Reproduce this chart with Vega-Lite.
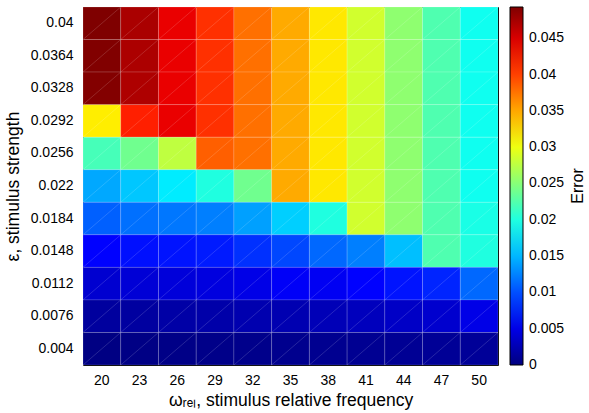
{
  "$schema": "https://vega.github.io/schema/vega-lite/v6.json",
  "width": 415,
  "height": 358,
  "autosize": {"type": "none"},
  "padding": {"left": 83, "top": 7, "right": 91, "bottom": 48},
  "config": {
    "font": "Liberation Sans",
    "view": {"stroke": "#000000", "strokeWidth": 1},
    "axis": {"labelFont": "Liberation Sans", "titleFont": "Liberation Sans", "labelColor": "#000", "titleColor": "#000", "labelFontSize": 14, "titleFontSize": 17.5, "titleFontWeight": "normal", "ticks": false, "domain": false, "grid": false},
    "legend": {"labelFont": "Liberation Sans", "titleFont": "Liberation Sans", "labelColor": "#000", "titleColor": "#000"}
  },
  "data": {"values": [
    {"x":20,"y":0.04,"e":0.0493},{"x":23,"y":0.04,"e":0.0472},{"x":26,"y":0.04,"e":0.0441},{"x":29,"y":0.04,"e":0.0408},{"x":32,"y":0.04,"e":0.0377},{"x":35,"y":0.04,"e":0.0349},{"x":38,"y":0.04,"e":0.0319},{"x":41,"y":0.04,"e":0.0286},{"x":44,"y":0.04,"e":0.0254},{"x":47,"y":0.04,"e":0.0223},{"x":50,"y":0.04,"e":0.0192},
    {"x":20,"y":0.0364,"e":0.0492},{"x":23,"y":0.0364,"e":0.0471},{"x":26,"y":0.0364,"e":0.0441},{"x":29,"y":0.0364,"e":0.0408},{"x":32,"y":0.0364,"e":0.0377},{"x":35,"y":0.0364,"e":0.0349},{"x":38,"y":0.0364,"e":0.0319},{"x":41,"y":0.0364,"e":0.0286},{"x":44,"y":0.0364,"e":0.0254},{"x":47,"y":0.0364,"e":0.0223},{"x":50,"y":0.0364,"e":0.0192},
    {"x":20,"y":0.0328,"e":0.0491},{"x":23,"y":0.0328,"e":0.0470},{"x":26,"y":0.0328,"e":0.0441},{"x":29,"y":0.0328,"e":0.0408},{"x":32,"y":0.0328,"e":0.0377},{"x":35,"y":0.0328,"e":0.0349},{"x":38,"y":0.0328,"e":0.0319},{"x":41,"y":0.0328,"e":0.0286},{"x":44,"y":0.0328,"e":0.0254},{"x":47,"y":0.0328,"e":0.0223},{"x":50,"y":0.0328,"e":0.0192},
    {"x":20,"y":0.0292,"e":0.0316},{"x":23,"y":0.0292,"e":0.0416},{"x":26,"y":0.0292,"e":0.0441},{"x":29,"y":0.0292,"e":0.0408},{"x":32,"y":0.0292,"e":0.0377},{"x":35,"y":0.0292,"e":0.0349},{"x":38,"y":0.0292,"e":0.0319},{"x":41,"y":0.0292,"e":0.0286},{"x":44,"y":0.0292,"e":0.0254},{"x":47,"y":0.0292,"e":0.0223},{"x":50,"y":0.0292,"e":0.0192},
    {"x":20,"y":0.0256,"e":0.0219},{"x":23,"y":0.0256,"e":0.0239},{"x":26,"y":0.0256,"e":0.0277},{"x":29,"y":0.0256,"e":0.0385},{"x":32,"y":0.0256,"e":0.0377},{"x":35,"y":0.0256,"e":0.0349},{"x":38,"y":0.0256,"e":0.0319},{"x":41,"y":0.0256,"e":0.0286},{"x":44,"y":0.0256,"e":0.0254},{"x":47,"y":0.0256,"e":0.0223},{"x":50,"y":0.0256,"e":0.0192},
    {"x":20,"y":0.022,"e":0.0143},{"x":23,"y":0.022,"e":0.0158},{"x":26,"y":0.022,"e":0.0176},{"x":29,"y":0.022,"e":0.0200},{"x":32,"y":0.022,"e":0.0239},{"x":35,"y":0.022,"e":0.0349},{"x":38,"y":0.022,"e":0.0319},{"x":41,"y":0.022,"e":0.0286},{"x":44,"y":0.022,"e":0.0254},{"x":47,"y":0.022,"e":0.0223},{"x":50,"y":0.022,"e":0.0192},
    {"x":20,"y":0.0184,"e":0.0108},{"x":23,"y":0.0184,"e":0.0116},{"x":26,"y":0.0184,"e":0.0119},{"x":29,"y":0.0184,"e":0.0123},{"x":32,"y":0.0184,"e":0.0139},{"x":35,"y":0.0184,"e":0.0162},{"x":38,"y":0.0184,"e":0.0200},{"x":41,"y":0.0184,"e":0.0286},{"x":44,"y":0.0184,"e":0.0254},{"x":47,"y":0.0184,"e":0.0223},{"x":50,"y":0.0184,"e":0.0197},
    {"x":20,"y":0.0148,"e":0.0062},{"x":23,"y":0.0148,"e":0.0069},{"x":26,"y":0.0148,"e":0.0071},{"x":29,"y":0.0148,"e":0.0074},{"x":32,"y":0.0148,"e":0.0085},{"x":35,"y":0.0148,"e":0.0096},{"x":38,"y":0.0148,"e":0.0112},{"x":41,"y":0.0148,"e":0.0123},{"x":44,"y":0.0148,"e":0.0154},{"x":47,"y":0.0148,"e":0.0223},{"x":50,"y":0.0148,"e":0.0200},
    {"x":20,"y":0.0112,"e":0.0039},{"x":23,"y":0.0112,"e":0.0042},{"x":26,"y":0.0112,"e":0.0044},{"x":29,"y":0.0112,"e":0.0046},{"x":32,"y":0.0112,"e":0.0050},{"x":35,"y":0.0112,"e":0.0058},{"x":38,"y":0.0112,"e":0.0056},{"x":41,"y":0.0112,"e":0.0062},{"x":44,"y":0.0112,"e":0.0071},{"x":47,"y":0.0112,"e":0.0079},{"x":50,"y":0.0112,"e":0.0112},
    {"x":20,"y":0.0076,"e":0.0015},{"x":23,"y":0.0076,"e":0.0016},{"x":26,"y":0.0076,"e":0.0019},{"x":29,"y":0.0076,"e":0.0020},{"x":32,"y":0.0076,"e":0.0023},{"x":35,"y":0.0076,"e":0.0024},{"x":38,"y":0.0076,"e":0.0027},{"x":41,"y":0.0076,"e":0.0030},{"x":44,"y":0.0076,"e":0.0034},{"x":47,"y":0.0076,"e":0.0038},{"x":50,"y":0.0076,"e":0.0050},
    {"x":20,"y":0.004,"e":0.0002},{"x":23,"y":0.004,"e":0.0003},{"x":26,"y":0.004,"e":0.0004},{"x":29,"y":0.004,"e":0.0005},{"x":32,"y":0.004,"e":0.0006},{"x":35,"y":0.004,"e":0.0007},{"x":38,"y":0.004,"e":0.0008},{"x":41,"y":0.004,"e":0.0009},{"x":44,"y":0.004,"e":0.0010},{"x":47,"y":0.004,"e":0.0011},{"x":50,"y":0.004,"e":0.0012}
  ]},
  "layer": [
    {
      "mark": {"type": "rect", "stroke": "#ffffff", "strokeOpacity": 0.25, "strokeWidth": 0.6},
      "encoding": {
        "x": {"field": "x", "type": "ordinal", "scale": {"paddingInner": 0, "paddingOuter": 0}, "axis": {"labelAngle": 0, "labelPadding": 8, "title": "ωᵣₑₗ, stimulus relative frequency", "titlePadding": 4}},
        "y": {"field": "y", "type": "ordinal", "sort": "descending", "scale": {"paddingInner": 0, "paddingOuter": 0}, "axis": {"labelPadding": 10, "title": "ε, stimulus strength", "titlePadding": 8}},
        "color": {
          "field": "e", "type": "quantitative",
          "scale": {"domain": [0, 0.00616, 0.0185, 0.0308, 0.0431, 0.0493], "range": ["#00007F", "#0000FF", "#00FFFF", "#FFFF00", "#FF0000", "#7F0000"], "interpolate": "rgb"},
          "legend": {"title": "Error", "titleOrient": "right", "titleFontSize": 16, "titleFontWeight": "normal", "titlePadding": 6, "gradientLength": 358, "gradientThickness": 13, "gradientStrokeColor": "#000", "gradientStrokeWidth": 1, "labelFontSize": 14, "format": ".3~f", "values": [0, 0.005, 0.01, 0.015, 0.02, 0.025, 0.03, 0.035, 0.04, 0.045], "offset": 12, "padding": 0, "labelOffset": 6,
            "encode": {"title": {"update": {"angle": {"value": -90}, "baseline": {"value": "top"}}}, "labels": {"update": {"baseline": {"value": "middle"}}}}}
        }
      }
    },
    {
      "mark": {"type": "rule", "color": "#ffffff", "strokeWidth": 0.5, "opacity": 0.3},
      "encoding": {
        "x": {"field": "x", "type": "ordinal", "bandPosition": 0},
        "x2": {"field": "x", "bandPosition": 1},
        "y": {"field": "y", "type": "ordinal", "sort": "descending", "bandPosition": 1},
        "y2": {"field": "y", "bandPosition": 0}
      }
    }
  ]
}
